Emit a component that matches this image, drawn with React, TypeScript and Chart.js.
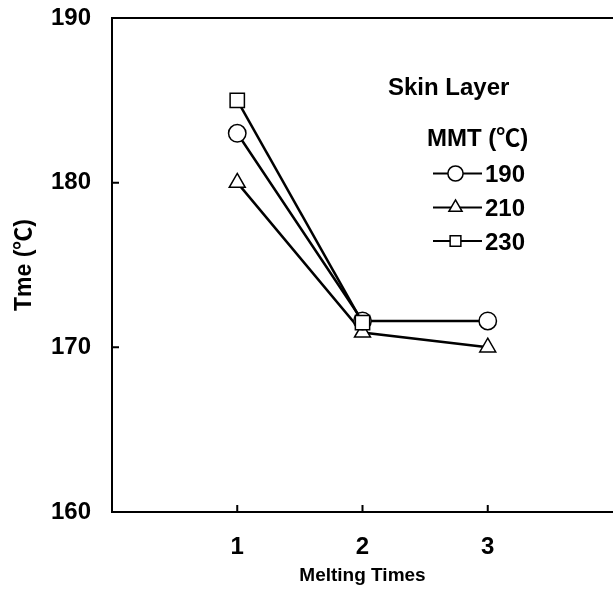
import React, { useEffect, useRef } from "react";
import { Chart, registerables } from "chart.js";

Chart.register(...registerables);

// ---- data ----
const meltingTimes = [1, 2, 3];
const xTickLabels = ["1", "2", "3"];
const yTicks = [160, 170, 180, 190];
const mmt190 = [183, 171.6, 171.6];
const mmt210 = [180, 170.9, 170];
const mmt230 = [185, 171.5, null];
const seriesLabels = ["190", "210", "230"];
const seriesStyles = ["circle", "triangle", "rect"];
const legendTitle = "Skin Layer";
const legendSubtitle = "MMT (℃)";
const xTitle = "Melting Times";
const yTitle = "Tme (℃)";

const FONT = "'Liberation Sans', 'Noto Sans CJK JP', Arial, sans-serif";

function drawMarker(ctx: CanvasRenderingContext2D, style: string, x: number, y: number, r: number) {
  ctx.beginPath();
  if (style === "circle") {
    ctx.arc(x, y, r, 0, Math.PI * 2);
  } else if (style === "triangle") {
    let rad = 0;
    ctx.moveTo(x + Math.sin(rad) * r, y - Math.cos(rad) * r);
    rad += (2 * Math.PI) / 3;
    ctx.lineTo(x + Math.sin(rad) * r, y - Math.cos(rad) * r);
    rad += (2 * Math.PI) / 3;
    ctx.lineTo(x + Math.sin(rad) * r, y - Math.cos(rad) * r);
    ctx.closePath();
  } else {
    const s = r * Math.SQRT1_2;
    ctx.rect(x - s, y - s, 2 * s, 2 * s);
  }
  ctx.fillStyle = "#fff";
  ctx.fill();
  ctx.stroke();
}

const decorPlugin = {
  id: "decor",
  afterLayout(chart: any) {
    // let the plot run to the right edge of the canvas, as in the reference
    const x = chart.scales.x;
    const R = chart.width;
    chart.chartArea.right = R;
    chart.chartArea.width = R - chart.chartArea.left;
    x.right = R;
    x.width = R - x.left;
    x.configure();
  },
  afterDraw(chart: any) {
    const { ctx, chartArea, scales } = chart;
    const { left, top, right, bottom } = chartArea;
    ctx.save();
    ctx.strokeStyle = "#000";
    ctx.lineWidth = 2;
    // top frame line
    ctx.beginPath();
    ctx.moveTo(left - 1, top);
    ctx.lineTo(right, top);
    ctx.stroke();
    // inward ticks
    ctx.beginPath();
    yTicks.forEach((v) => {
      const py = scales.y.getPixelForValue(v);
      ctx.moveTo(left, py);
      ctx.lineTo(left + 7, py);
    });
    meltingTimes.forEach((v) => {
      const px = scales.x.getPixelForValue(v);
      ctx.moveTo(px, bottom);
      ctx.lineTo(px, bottom - 7);
    });
    ctx.stroke();

    // legend
    ctx.fillStyle = "#000";
    ctx.font = `bold 24px ${FONT}`;
    ctx.textAlign = "left";
    ctx.textBaseline = "alphabetic";
    ctx.fillText(legendTitle, 388, 95);
    ctx.fillText(legendSubtitle, 427, 146);
    const rows = [173.5, 207.5, 241];
    seriesLabels.forEach((lab, i) => {
      const cy = rows[i];
      ctx.lineWidth = 2;
      ctx.strokeStyle = "#000";
      ctx.beginPath();
      ctx.moveTo(433, cy);
      ctx.lineTo(482, cy);
      ctx.stroke();
      ctx.lineWidth = 1.5;
      drawMarker(ctx, seriesStyles[i], 455.5, cy, 7.6);
      ctx.fillStyle = "#000";
      ctx.fillText(lab, 485, cy + 8.5);
    });
    ctx.restore();
  },
};

export default function App() {
  const ref = useRef<HTMLCanvasElement | null>(null);
  useEffect(() => {
    document.body.style.margin = "0";
    if (!ref.current) return;
    const mk = (vals: (number | null)[]) => meltingTimes.map((x, i) => ({ x, y: vals[i] }));
    const common = {
      borderColor: "#000",
      borderWidth: 2.5,
      pointBackgroundColor: "#fff",
      pointBorderColor: "#000",
      pointBorderWidth: 1.5,
      pointHoverRadius: 9,
      tension: 0,
      spanGaps: false,
    };
    const chart = new Chart(ref.current, {
      type: "line",
      data: {
        datasets: [
          { ...common, label: seriesLabels[0], data: mk(mmt190), pointStyle: "circle", pointRadius: 8.7, order: 1 },
          { ...common, label: seriesLabels[1], data: mk(mmt210), pointStyle: "triangle", pointRadius: 9.2, order: 2 },
          { ...common, label: seriesLabels[2], data: mk(mmt230), pointStyle: "rect", pointRadius: 10.1, order: 0 },
        ],
      },
      options: {
        animation: false,
        responsive: true,
        maintainAspectRatio: false,
        layout: { padding: { top: 18, right: 0, bottom: 0, left: 0 } },
        plugins: { legend: { display: false }, tooltip: { enabled: false } },
        scales: {
          x: {
            type: "linear",
            min: 0,
            max: 4,
            afterBuildTicks: (s: any) => {
              s.ticks = meltingTimes.map((v) => ({ value: v }));
            },
            afterFit: (s: any) => {
              s.height = 90;
              s.paddingLeft = 0;
              s.paddingRight = 0;
            },
            ticks: {
              padding: 21,
              color: "#000",
              font: { family: FONT, size: 24, weight: "bold" },
              callback: (v: any) => xTickLabels[meltingTimes.indexOf(v)] ?? "",
              maxRotation: 0,
            },
            grid: { display: false, drawTicks: false },
            border: { display: true, color: "#000", width: 2 },
            title: {
              display: true,
              text: xTitle,
              color: "#000",
              font: { family: FONT, size: 19, weight: "bold" },
              padding: { top: 0, bottom: 15 },
            },
          },
          y: {
            type: "linear",
            min: 160,
            max: 190,
            afterBuildTicks: (s: any) => {
              s.ticks = yTicks.map((v) => ({ value: v }));
            },
            afterFit: (s: any) => {
              s.width = 112;
              s.paddingTop = 0;
              s.paddingBottom = 0;
            },
            ticks: {
              padding: 21,
              color: "#000",
              font: { family: FONT, size: 24, weight: "bold" },
            },
            grid: { display: false, drawTicks: false },
            border: { display: true, color: "#000", width: 2 },
            title: {
              display: true,
              text: yTitle,
              color: "#000",
              font: { family: FONT, size: 23, weight: "bold" },
              padding: { top: 11, bottom: 0 },
            },
          },
        },
      },
      plugins: [decorPlugin],
    });
    return () => chart.destroy();
  }, []);
  return (
    <div style={{ position: "fixed", left: 0, top: 0, width: 613, height: 602, background: "#fff" }}>
      <canvas ref={ref} />
    </div>
  );
}
